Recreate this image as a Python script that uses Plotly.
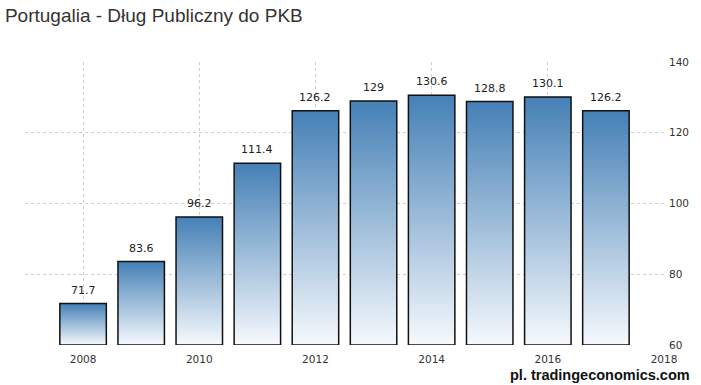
import plotly.graph_objects as go

years = [2008, 2009, 2010, 2011, 2012, 2013, 2014, 2015, 2016, 2017]
values = [71.7, 83.6, 96.2, 111.4, 126.2, 129, 130.6, 128.8, 130.1, 126.2]
labels = ["71.7", "83.6", "96.2", "111.4", "126.2", "129", "130.6", "128.8", "130.1", "126.2"]
x_ticks = [2008, 2010, 2012, 2014, 2016, 2018]
y_ticks = [60, 80, 100, 120, 140]

base = 60
half = 0.4

fig = go.Figure()
for yr, v in zip(years, values):
    fig.add_trace(go.Scatter(
        x=[yr - half, yr - half, yr + half, yr + half, yr - half],
        y=[base, v, v, base, base],
        mode="lines",
        fill="toself",
        fillgradient=dict(type="vertical",
                          colorscale=[[0, "#f6f9fd"], [1, "#4580b6"]]),
        line=dict(color="#111111", width=1.5),
        hoverinfo="skip",
        showlegend=False,
    ))

annotations = [
    dict(x=yr, y=v, text=lab, xref="x", yref="y", showarrow=False,
         yanchor="bottom", yshift=5,
         font=dict(family="DejaVu Sans", size=11, color="#222222"))
    for yr, v, lab in zip(years, values, labels)
]

grid = dict(showgrid=True, gridcolor="#cfcfcf", griddash="dot", gridwidth=1,
            zeroline=False, showline=False)

fig.update_xaxes(range=[2007, 2018], tickvals=x_ticks,
                 tickfont=dict(family="DejaVu Sans", size=10.5, color="#333333"),
                 ticklabelstandoff=6, **grid)
fig.update_yaxes(range=[60, 140], tickvals=y_ticks, side="right",
                 tickfont=dict(family="DejaVu Sans", size=10.5, color="#333333"),
                 ticklabelstandoff=4, **grid)

annotations.append(dict(text="<b>pl. tradingeconomics.com</b>",
                        xref="paper", yref="paper", x=1.044, y=-0.106,
                        xanchor="right", yanchor="middle", showarrow=False,
                        font=dict(family="Liberation Sans", size=14.5, color="#111111")))

fig.update_layout(
    width=701, height=385,
    margin=dict(l=25, r=23, t=62, b=40),
    paper_bgcolor="white", plot_bgcolor="white",
    title=dict(text="Portugalia - Dług Publiczny do PKB",
               x=0.007, xanchor="left", y=0.96, yanchor="middle",
               font=dict(family="Liberation Sans", size=19, color="#333333")),
    annotations=annotations,
)

post = ("document.body.style.margin='0';document.body.style.overflow='hidden';"
        "Plotly.relayout(document.getElementById('{plot_id}'),{width:701,height:385});")
fig.write_html("out.html", post_script=post, config={"displayModeBar": False})
